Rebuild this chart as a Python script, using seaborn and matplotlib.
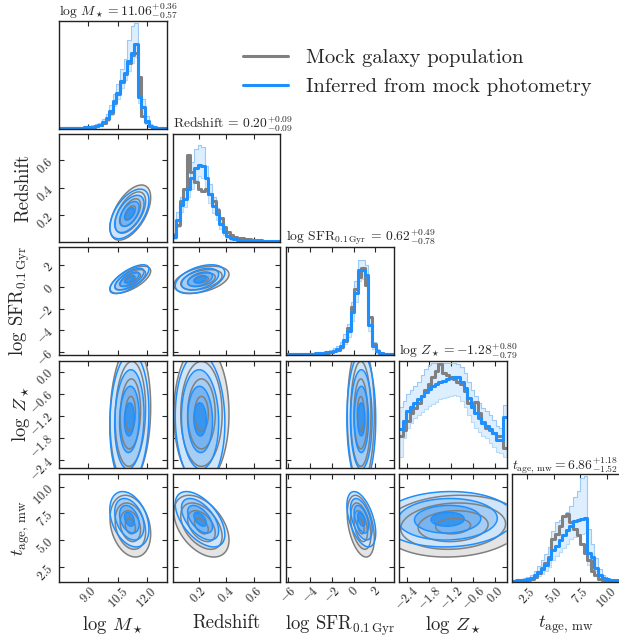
import numpy as np
import pandas as pd
import matplotlib
matplotlib.use("Agg")
import matplotlib.pyplot as plt
import seaborn as sns
from matplotlib.lines import Line2D

sns.set_style("ticks")
plt.rcParams['font.family'] = 'serif'
plt.rcParams['font.serif'] = ['cmr10']
plt.rcParams['mathtext.fontset'] = 'cm'
plt.rcParams['axes.unicode_minus'] = False
plt.rcParams['axes.formatter.use_mathtext'] = True

# parameters, limits, ticks
labels = [r'log $M_\star$', 'Redshift', r'log SFR$_{0.1\,\mathrm{Gyr}}$',
          r'log $Z_\star$', r'$t_{\mathrm{age,\,mw}}$']
titles = [r'log $M_\star = 11.06^{+0.36}_{-0.57}$',
          r'Redshift = $0.20^{+0.09}_{-0.09}$',
          r'log SFR$_{0.1\,\mathrm{Gyr}}$ = $0.62^{+0.49}_{-0.78}$',
          r'log $Z_\star = -1.28^{+0.80}_{-0.79}$',
          r'$t_{\mathrm{age,\,mw}} = 6.86^{+1.18}_{-1.52}$']
lims = [(7.5, 13.0), (0.01, 0.79), (-6.2, 3.65), (-2.62, 0.3), (1.1, 11.2)]
ticks = [[9.0, 10.5, 12.0], [0.2, 0.4, 0.6], [-6, -4, -2, 0, 2],
         [-2.4, -1.8, -1.2, -0.6, 0.0], [2.5, 5.0, 7.5, 10.0]]
ticklabels = [['$9.0$', '$10.5$', '$12.0$'], ['$0.2$', '$0.4$', '$0.6$'],
              ['$-6$', '$-4$', '$-2$', '$0$', '$2$'],
              ['$-2.4$', '$-1.8$', '$-1.2$', '$-0.6$', '$0.0$'],
              ['$2.5$', '$5.0$', '$7.5$', '$10.0$']]

# 1D histograms (30 bins across each axis range), heights as fraction of panel
mass_mock = [0.004, 0.004, 0.005, 0.005, 0.006, 0.007, 0.008, 0.010, 0.012, 0.015,
             0.02, 0.03, 0.05, 0.09, 0.15, 0.24, 0.33, 0.44, 0.52, 0.62,
             0.70, 0.72, 0.49, 0.12, 0.06, 0.02, 0.008, 0.005, 0.004, 0.003]
mass_inf = [0.005, 0.005, 0.006, 0.006, 0.007, 0.008, 0.009, 0.010, 0.012, 0.015,
            0.02, 0.03, 0.06, 0.10, 0.17, 0.26, 0.34, 0.45, 0.53, 0.64,
            0.72, 0.80, 0.30, 0.20, 0.07, 0.02, 0.01, 0.006, 0.005, 0.004]
mass_hi = [0.01, 0.01, 0.012, 0.012, 0.014, 0.016, 0.018, 0.02, 0.025, 0.03,
           0.04, 0.05, 0.09, 0.14, 0.22, 0.33, 0.42, 0.56, 0.66, 0.84,
           0.97, 1.0, 0.45, 0.28, 0.12, 0.04, 0.02, 0.012, 0.01, 0.008]
mass_lo = [0.002, 0.002, 0.003, 0.003, 0.003, 0.004, 0.004, 0.005, 0.006, 0.008,
           0.01, 0.02, 0.04, 0.07, 0.13, 0.21, 0.28, 0.38, 0.46, 0.55,
           0.62, 0.68, 0.24, 0.15, 0.04, 0.01, 0.005, 0.003, 0.002, 0.002]

z_mock = [0.06, 0.16, 0.38, 0.50, 0.82, 0.66, 0.56, 0.50, 0.48, 0.50,
          0.45, 0.38, 0.30, 0.22, 0.14, 0.09, 0.06, 0.045, 0.035, 0.03,
          0.025, 0.02, 0.015, 0.012, 0.01, 0.008, 0.006, 0.005, 0.004, 0.003]
z_inf = [0.04, 0.20, 0.35, 0.40, 0.50, 0.60, 0.70, 0.73, 0.72, 0.60,
         0.45, 0.34, 0.26, 0.17, 0.09, 0.05, 0.03, 0.02, 0.015, 0.012,
         0.01, 0.008, 0.007, 0.006, 0.005, 0.005, 0.004, 0.004, 0.003, 0.003]
z_hi = [0.08, 0.28, 0.42, 0.50, 0.60, 0.75, 0.88, 0.92, 0.90, 0.72,
        0.55, 0.42, 0.32, 0.22, 0.13, 0.08, 0.05, 0.035, 0.025, 0.02,
        0.017, 0.014, 0.012, 0.01, 0.009, 0.008, 0.007, 0.006, 0.005, 0.005]
z_lo = [0.02, 0.14, 0.28, 0.33, 0.42, 0.50, 0.58, 0.62, 0.60, 0.50,
        0.37, 0.27, 0.20, 0.12, 0.06, 0.03, 0.015, 0.01, 0.008, 0.006,
        0.005, 0.004, 0.003, 0.003, 0.002, 0.002, 0.002, 0.002, 0.001, 0.001]

sfr_mock = [0.002, 0.002, 0.003, 0.003, 0.004, 0.005, 0.006, 0.007, 0.009, 0.011,
            0.014, 0.018, 0.022, 0.03, 0.045, 0.07, 0.13, 0.25, 0.45, 0.62,
            0.74, 0.82, 0.66, 0.36, 0.10, 0.03, 0.012, 0.006, 0.004, 0.003]
sfr_inf = [0.003, 0.003, 0.004, 0.004, 0.005, 0.006, 0.007, 0.008, 0.010, 0.012,
           0.015, 0.02, 0.025, 0.035, 0.05, 0.08, 0.14, 0.22, 0.40, 0.58,
           0.80, 0.80, 0.75, 0.28, 0.08, 0.03, 0.015, 0.008, 0.005, 0.004]
sfr_hi = [0.006, 0.006, 0.007, 0.008, 0.009, 0.011, 0.013, 0.015, 0.018, 0.022,
          0.027, 0.035, 0.045, 0.06, 0.08, 0.12, 0.19, 0.29, 0.50, 0.70,
          0.90, 0.90, 0.85, 0.36, 0.12, 0.05, 0.025, 0.014, 0.009, 0.007]
sfr_lo = [0.001, 0.001, 0.002, 0.002, 0.002, 0.003, 0.003, 0.004, 0.005, 0.006,
          0.008, 0.01, 0.014, 0.02, 0.03, 0.05, 0.10, 0.17, 0.32, 0.50,
          0.70, 0.72, 0.66, 0.22, 0.05, 0.015, 0.007, 0.004, 0.002, 0.002]

Z_mock = [0.30, 0.36, 0.45, 0.52, 0.57, 0.62, 0.68, 0.74, 0.80, 0.86,
          0.92, 0.99, 0.90, 0.88, 0.86, 0.84, 0.82, 0.80, 0.73, 0.62,
          0.58, 0.63, 0.52, 0.44, 0.38, 0.36, 0.33, 0.30, 0.30, 0.19]
Z_inf = [0.37, 0.45, 0.54, 0.58, 0.62, 0.65, 0.68, 0.72, 0.75, 0.78,
         0.80, 0.82, 0.83, 0.84, 0.85, 0.86, 0.86, 0.82, 0.76, 0.66,
         0.58, 0.52, 0.47, 0.43, 0.40, 0.37, 0.33, 0.27, 0.27, 0.48]
Z_hi = [0.58, 0.64, 0.70, 0.74, 0.78, 0.82, 0.88, 0.94, 0.98, 1.0,
        1.0, 1.0, 1.0, 1.0, 1.0, 1.0, 0.99, 0.96, 0.90, 0.82,
        0.74, 0.68, 0.62, 0.57, 0.54, 0.50, 0.46, 0.40, 0.38, 0.60]
Z_lo = [0.10, 0.28, 0.38, 0.43, 0.47, 0.50, 0.53, 0.56, 0.59, 0.61,
        0.63, 0.65, 0.66, 0.67, 0.68, 0.69, 0.68, 0.64, 0.58, 0.50,
        0.44, 0.38, 0.34, 0.30, 0.28, 0.24, 0.20, 0.15, 0.14, 0.10]

t_mock = [0.005, 0.006, 0.007, 0.008, 0.01, 0.02, 0.04, 0.08, 0.13, 0.18,
          0.23, 0.40, 0.45, 0.53, 0.62, 0.64, 0.56, 0.50, 0.44, 0.36,
          0.27, 0.20, 0.10, 0.06, 0.025, 0.01, 0.006, 0.004, 0.003, 0.002]
t_inf = [0.008, 0.01, 0.012, 0.015, 0.02, 0.03, 0.06, 0.09, 0.12, 0.16,
         0.21, 0.30, 0.34, 0.39, 0.44, 0.49, 0.53, 0.57, 0.58, 0.59,
         0.60, 0.27, 0.23, 0.13, 0.06, 0.03, 0.02, 0.01, 0.01, 0.01]
t_hi = [0.015, 0.02, 0.025, 0.03, 0.04, 0.06, 0.10, 0.15, 0.20, 0.26,
        0.33, 0.48, 0.56, 0.58, 0.62, 0.66, 0.72, 0.80, 0.86, 0.98,
        1.0, 0.50, 0.36, 0.22, 0.12, 0.06, 0.035, 0.02, 0.018, 0.015]
t_lo = [0.003, 0.004, 0.005, 0.006, 0.008, 0.012, 0.03, 0.05, 0.07, 0.10,
        0.14, 0.20, 0.24, 0.28, 0.32, 0.36, 0.40, 0.42, 0.44, 0.45,
        0.46, 0.16, 0.13, 0.07, 0.03, 0.012, 0.007, 0.004, 0.004, 0.003]

hist_mock = [mass_mock, z_mock, sfr_mock, Z_mock, t_mock]
hist_inf = [mass_inf, z_inf, sfr_inf, Z_inf, t_inf]
hist_hi = [mass_hi, z_hi, sfr_hi, Z_hi, t_hi]
hist_lo = [mass_lo, z_lo, sfr_lo, Z_lo, t_lo]

# 2D contour shapes: centre, width and correlation of each population
inf_mean = [11.1, 0.21, 0.7, -1.3, 6.95]
inf_std = [0.5, 0.09, 0.66, 0.9, 1.3]
mock_mean = [11.15, 0.22, 0.65, -1.15, 6.3]
mock_std = [0.52, 0.10, 0.62, 0.95, 1.45]
inf_corr = [[1.0, 0.55, 0.70, 0.10, -0.35],
            [0.55, 1.0, 0.45, -0.05, -0.55],
            [0.70, 0.45, 1.0, 0.0, -0.50],
            [0.10, -0.05, 0.0, 1.0, 0.05],
            [-0.35, -0.55, -0.50, 0.05, 1.0]]
mock_corr = [[1.0, 0.55, 0.65, 0.10, -0.25],
             [0.55, 1.0, 0.40, 0.0, -0.45],
             [0.65, 0.40, 1.0, 0.0, -0.40],
             [0.10, 0.0, 0.0, 1.0, 0.10],
             [-0.25, -0.45, -0.40, 0.10, 1.0]]

gray = '#808080'
blue = '#1e8fff'
blue_fills = ['#3a95ec', '#78b4ef', '#a6cdf4', '#d0e5f9']
gray_fills = ['#9c9c9c', '#b8b8b8', '#d2d2d2', '#e4e4e4']
sig_levels = [0, 0.25, 1.0, 2.25, 4.0]

W, H = 619, 638
fig = plt.figure(figsize=(W / 100, H / 100), dpi=100)
col_left = [59, 172.5, 286, 399, 512]
row_top = [21, 134, 247, 360.5, 474]
size = 107.5


def panel(i, j):
    ax = fig.add_axes([col_left[j] / W, 1 - (row_top[i] + size) / H, size / W, size / H])
    ax.tick_params(direction='in', top=True, right=True, length=3.5, width=0.8,
                   labelsize=9, pad=2)
    for s in ax.spines.values():
        s.set_linewidth(1.0)
        s.set_color('#222222')
    return ax


def step_hist(ax, edges, heights, color, lw):
    centers = 0.5 * (edges[1:] + edges[:-1])
    df = pd.DataFrame({'x': centers, 'w': heights})
    sns.histplot(data=df, x='x', weights='w', bins=list(edges), element='step',
                 fill=False, color=color, lw=lw, ax=ax)


def draw_pair(ax, j, i, mean, std, corr, fills, color, fill=True):
    xs = np.linspace(lims[j][0], lims[j][1], 150)
    ys = np.linspace(lims[i][0], lims[i][1], 150)
    X, Y = np.meshgrid(xs, ys)
    dx = (X - mean[j]) / std[j]
    dy = (Y - mean[i]) / std[i]
    r = corr[i][j]
    R2 = (dx ** 2 - 2 * r * dx * dy + dy ** 2) / (1 - r ** 2)
    if fill:
        ax.contourf(X, Y, R2, levels=sig_levels, colors=fills)
    else:
        ax.contour(X, Y, R2, levels=sig_levels[1:], colors=color, linewidths=1.1)


for i in range(5):
    for j in range(i + 1):
        ax = panel(i, j)
        if i == j:
            edges = np.linspace(lims[i][0], lims[i][1], 31)
            lo = np.r_[hist_lo[i], hist_lo[i][-1]]
            hi = np.r_[hist_hi[i], hist_hi[i][-1]]
            ax.fill_between(edges, lo, hi, step='post', color=blue, alpha=0.15, lw=0)
            step_hist(ax, edges, hist_hi[i], '#9cc9f5', 0.8)
            step_hist(ax, edges, hist_lo[i], '#b9dbf8', 0.8)
            step_hist(ax, edges, hist_mock[i], gray, 2.2)
            step_hist(ax, edges, hist_inf[i], blue, 2.2)
            ax.set_ylim(0, 1.02)
            ax.set_yticks([])
            ax.set_ylabel('')
            ax.set_title(titles[i], fontsize=9.8, pad=3, loc='left')
        else:
            draw_pair(ax, j, i, mock_mean, mock_std, mock_corr, gray_fills, gray)
            draw_pair(ax, j, i, inf_mean, inf_std, inf_corr, blue_fills, blue)
            draw_pair(ax, j, i, mock_mean, mock_std, mock_corr, gray_fills, gray, fill=False)
            draw_pair(ax, j, i, inf_mean, inf_std, inf_corr, blue_fills, blue, fill=False)
            ax.set_ylim(*lims[i])
            ax.set_yticks(ticks[i])
            if j == 0:
                ax.set_yticklabels(ticklabels[i], rotation=45)
                ax.set_ylabel(labels[i], fontsize=13.5)
                ax.yaxis.set_label_coords(-0.25, 0.5)
            else:
                ax.set_yticklabels([])
        ax.set_xlim(*lims[j])
        ax.set_xticks(ticks[j])
        if i == 4:
            ax.set_xticklabels(ticklabels[j], rotation=45)
            ax.set_xlabel(labels[j], fontsize=13.5)
            ax.xaxis.set_label_coords(0.5, -0.3)
        else:
            ax.set_xticklabels([])
            ax.set_xlabel('')

handles = [Line2D([0], [0], color=gray, lw=2.2), Line2D([0], [0], color=blue, lw=2.2)]
fig.legend(handles, ['Mock galaxy population', 'Inferred from mock photometry'],
           loc='upper left', bbox_to_anchor=(243 / W, 1 - 49 / H), frameon=False,
           fontsize=14.8, handlelength=2.2, handletextpad=0.85, labelspacing=0.5,
           borderpad=0, borderaxespad=0)

fig.savefig('out.png', dpi=100)
